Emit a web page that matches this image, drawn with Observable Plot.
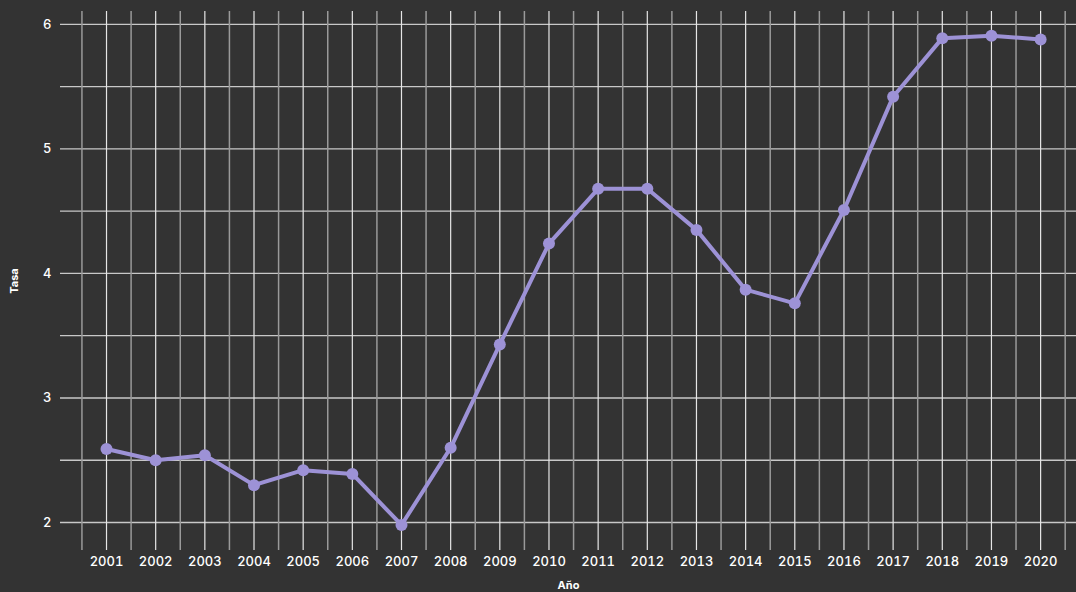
<!DOCTYPE html>
<html>
<head>
<meta charset="utf-8">
<script src="https://cdn.jsdelivr.net/npm/d3@7"></script>
<script src="https://cdn.jsdelivr.net/npm/@observablehq/plot@0.6"></script>
<style>
  html, body { margin: 0; padding: 0; background: #333333; overflow: hidden; }
  #chart svg { display: block; }
</style>
</head>
<body>
<div id="chart"></div>
<script>
const years = [2001,2002,2003,2004,2005,2006,2007,2008,2009,2010,2011,2012,2013,2014,2015,2016,2017,2018,2019,2020];
const tasa  = [2.59,2.50,2.54,2.30,2.42,2.39,1.98,2.60,3.43,4.24,4.68,4.68,4.35,3.87,3.76,4.51,5.42,5.89,5.91,5.88];
const yTicks = [2,3,4,5,6];
const yGrid = [2,2.5,3,3.5,4,4.5,5,5.5,6];
const midYears = [2000.5,2001.5,2002.5,2003.5,2004.5,2005.5,2006.5,2007.5,2008.5,2009.5,2010.5,2011.5,2012.5,2013.5,2014.5,2015.5,2016.5,2017.5,2018.5,2019.5,2020.5];

const data = years.map((y, i) => ({year: y, tasa: tasa[i]}));

const chart = Plot.plot({
  width: 1076,
  height: 600,
  marginLeft: 60,
  marginRight: 0,
  marginTop: 11,
  marginBottom: 50,
  style: {background: "#333333", color: "#ffffff", fontFamily: "Inter, Roboto, sans-serif"},
  x: {domain: [2000.064, 2020.73]},
  y: {domain: [1.775, 6.104]},
  marks: [
    Plot.ruleY(yGrid, {stroke: "#c8c8c8", strokeWidth: 1.3}),
    Plot.ruleX(midYears, {stroke: "#9a9a9a", strokeWidth: 1.5}),
    Plot.ruleX(years, {stroke: "#e6e6e6", strokeWidth: 1.2}),
    Plot.axisX(years, {tickSize: 0, tickPadding: 6, tickFormat: d => String(d), fontSize: 13, fontWeight: 500, label: "Año", labelAnchor: "center", labelOffset: 38, labelArrow: "none"}),
    Plot.axisY(yTicks, {tickSize: 0, tickPadding: 9, tickFormat: d => String(d), fontSize: 13, fontWeight: 500, label: "Tasa", labelAnchor: "center", labelOffset: 50, labelArrow: "none"}),
    Plot.line(data, {x: "year", y: "tasa", stroke: "#9d92d6", strokeWidth: 4}),
    Plot.dot(data, {x: "year", y: "tasa", fill: "#9d92d6", r: 6})
  ]
});
d3.select(chart).selectAll("[aria-label='x-axis label'] text, [aria-label='y-axis label'] text")
  .style("font-size", "11px").style("font-weight", "700");
document.getElementById("chart").append(chart);
</script>
</body>
</html>
